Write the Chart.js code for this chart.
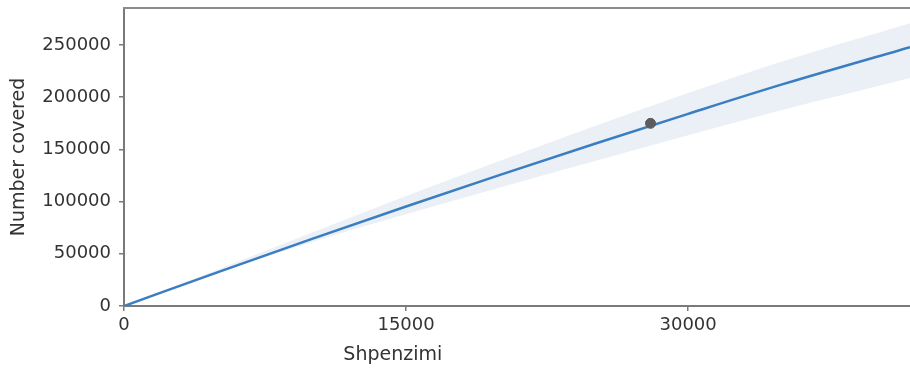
<!DOCTYPE html>
<html>
<head>
<meta charset="utf-8">
<script src="https://cdn.jsdelivr.net/npm/chart.js@4.4.1/dist/chart.umd.min.js"></script>
<style>
  html, body { margin: 0; padding: 0; background: #ffffff; }
  #wrap { width: 910px; height: 371px; }
</style>
</head>
<body>
<div id="wrap"><canvas id="c" width="910" height="371"></canvas></div>
<script>
// Spending (x) against number of people covered (y)
const spendX   = [0, 5000, 10000, 15000, 20000, 25000, 30000, 35000, 41800];
const fitY     = [0, 32500, 64300, 95300, 125600, 155200, 184100, 212300, 248000];
const bandUpY  = [0, 35000, 70300, 105300, 139100, 172200, 204100, 234300, 271000];
const bandLowY = [0, 31700, 61300, 87800, 113600, 138700, 163600, 187800, 218500];

const obsX = [28000];
const obsY = [175000];

const xTicks = [0, 15000, 30000];
const yTicks = [0, 50000, 100000, 150000, 200000, 250000];

const xTitle = 'Shpenzimi';
const yTitle = 'Number covered';

const toPts = (xs, ys) => xs.map((x, i) => ({ x: x, y: ys[i] }));

const textColor = '#333333';
const axisColor = '#7a7a7a';
const tickFont = { family: 'DejaVu Sans', size: 18 };

// top frame line and the x-axis title, placed relative to the plot area
const framePlugin = {
  id: 'frame',
  afterDraw(chart) {
    const { ctx, chartArea } = chart;
    ctx.save();
    ctx.strokeStyle = '#8c8c8c';
    ctx.lineWidth = 2;
    ctx.beginPath();
    ctx.moveTo(chartArea.left - 1, chartArea.top);
    ctx.lineTo(chartArea.right, chartArea.top);
    ctx.stroke();

    ctx.fillStyle = textColor;
    ctx.font = '19px "DejaVu Sans"';
    ctx.textAlign = 'center';
    ctx.textBaseline = 'middle';
    const cx = chartArea.left + (chartArea.right - chartArea.left) * 0.342;
    ctx.fillText(xTitle, cx, chartArea.bottom + 49);
    ctx.restore();
  }
};

new Chart(document.getElementById('c'), {
  type: 'scatter',
  data: {
    datasets: [
      {
        label: 'observed',
        data: toPts(obsX, obsY),
        backgroundColor: '#5c5c5c',
        borderColor: '#5c5c5c',
        pointRadius: 5,
        pointHoverRadius: 5,
        showLine: false
      },
      {
        label: 'fit',
        data: toPts(spendX, fitY),
        borderColor: '#3a7dc0',
        borderWidth: 2.5,
        pointRadius: 0,
        showLine: true,
        cubicInterpolationMode: 'monotone',
        fill: false
      },
      {
        label: 'upper',
        data: toPts(spendX, bandUpY),
        borderWidth: 0,
        borderColor: 'rgba(0,0,0,0)',
        backgroundColor: '#ebf0f7',
        pointRadius: 0,
        showLine: true,
        cubicInterpolationMode: 'monotone',
        fill: '+1'
      },
      {
        label: 'lower',
        data: toPts(spendX, bandLowY),
        borderWidth: 0,
        borderColor: 'rgba(0,0,0,0)',
        pointRadius: 0,
        showLine: true,
        cubicInterpolationMode: 'monotone',
        fill: false
      }
    ]
  },
  options: {
    responsive: false,
    animation: false,
    events: [],
    layout: { autoPadding: false, padding: { top: 8, right: 0, left: 0, bottom: 0 } },
    plugins: {
      legend: { display: false },
      tooltip: { enabled: false }
    },
    scales: {
      x: {
        type: 'linear',
        min: 0,
        max: 41800,
        afterBuildTicks: (s) => { s.ticks = xTicks.map(v => ({ value: v })); },
        afterFit: (s) => { s.height = 65; s.paddingLeft = 0; s.paddingRight = 0; },
        ticks: { color: textColor, font: tickFont, padding: 4, maxRotation: 0, callback: (v) => String(v) },
        grid: { drawOnChartArea: false, drawTicks: true, tickLength: 5, color: axisColor, lineWidth: 1.5 },
        border: { display: true, color: axisColor, width: 2 }
      },
      y: {
        type: 'linear',
        min: 0,
        max: 285500,
        afterBuildTicks: (s) => { s.ticks = yTicks.map(v => ({ value: v })); },
        afterFit: (s) => { s.width = 124; s.paddingTop = 0; s.paddingBottom = 0; },
        ticks: { color: textColor, font: tickFont, padding: 8, callback: (v) => String(v) },
        grid: { drawOnChartArea: false, drawTicks: true, tickLength: 5, color: axisColor, lineWidth: 1.5 },
        border: { display: true, color: axisColor, width: 2 },
        title: {
          display: true,
          text: yTitle,
          color: textColor,
          font: { family: 'DejaVu Sans', size: 19 },
          padding: { top: 8, bottom: 0 }
        }
      }
    }
  },
  plugins: [framePlugin]
});
</script>
</body>
</html>
